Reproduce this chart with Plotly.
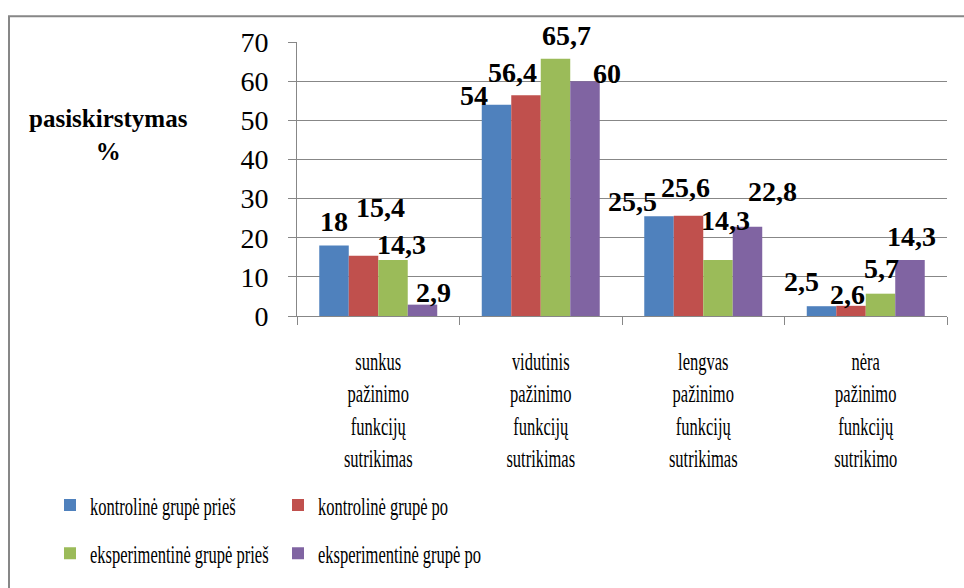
import json
import plotly.graph_objects as go

categories = [
    "sunkus<br>pažinimo<br>funkcijų<br>sutrikimas",
    "vidutinis<br>pažinimo<br>funkcijų<br>sutrikimas",
    "lengvas<br>pažinimo<br>funkcijų<br>sutrikimas",
    "nėra<br>pažinimo<br>funkcijų<br>sutrikimo",
]
series_names = [
    "kontrolinė grupė prieš",
    "kontrolinė grupė po",
    "eksperimentinė grupė prieš",
    "eksperimentinė grupė po",
]
kontroline_pries = [18, 54, 25.5, 2.5]
kontroline_po = [15.4, 56.4, 25.6, 2.6]
eksperimentine_pries = [14.3, 65.7, 14.3, 5.7]
eksperimentine_po = [2.9, 60, 22.8, 14.3]
y_ticks = [0, 10, 20, 30, 40, 50, 60, 70]

series_values = [kontroline_pries, kontroline_po, eksperimentine_pries, eksperimentine_po]
colors = ["#4F81BD", "#C0504D", "#9BBB59", "#8064A2"]
legends = ["legend", "legend", "legend2", "legend2"]

# label placement style (pixel nudges relative to default "above bar" spot)
label_dx = [[0, -23, -27, -20], [17, -14, -3.5, -4], [9, 11.5, 8, 1], [11.5, 22.5, 25, 2]]
label_dy = [[24, 9, 15, 25], [48, 23, 28, 11], [16, 23, 40, 25], [12, 8, 35, 24]]

W, H = 964, 588
ML, MR, MT, MB = 297, 17, 42, 268
plot_w = W - ML - MR
plot_h = H - MT - MB
bargap = 0.274
cat_px = plot_w / len(categories)
bar_px = cat_px * (1 - bargap) / len(series_values)

SERIF = "Liberation Serif"
GRAY = "#878787"
NARROW = 0.66  # horizontal squeeze of the narrow category / legend text

fig = go.Figure()
for name, vals, col, lg in zip(series_names, series_values, colors, legends):
    fig.add_trace(go.Bar(
        name=name, x=categories, y=vals, marker=dict(color=col, line=dict(width=0)),
        legend=lg,
    ))

def fmt(v):
    return f"{v:g}".replace(".", ",")

annotations = []
for si, vals in enumerate(series_values):
    off = (si - (len(series_values) - 1) / 2) * bar_px
    for ci, v in enumerate(vals):
        annotations.append(dict(
            x=categories[ci], y=v, xref="x", yref="y", text=fmt(v), showarrow=False,
            xanchor="center", yanchor="middle",
            xshift=off + label_dx[si][ci], yshift=label_dy[si][ci],
            font=dict(family=SERIF, size=28, color="black", weight="bold"),
        ))

annotations.append(dict(
    xref="paper", yref="paper", x=(108 - ML) / plot_w, y=(plot_h - (136 - MT)) / plot_h,
    text="pasiskirstymas<br>%", showarrow=False, xanchor="center", yanchor="middle",
    font=dict(family=SERIF, size=25, color="black", weight="bold"), align="center",
))

leg_common = dict(
    orientation="h", xanchor="left", yanchor="middle", entrywidth=183, entrywidthmode="pixels",
    itemwidth=30, font=dict(family=SERIF, size=25, color="black"),
    bgcolor="rgba(0,0,0,0)", traceorder="normal",
)

fig.update_layout(
    width=W, height=H,
    margin=dict(l=ML, r=MR, t=MT, b=MB),
    paper_bgcolor="white", plot_bgcolor="white",
    barmode="group", bargap=bargap, bargroupgap=0,
    font=dict(family=SERIF, color="black"),
    annotations=annotations,
    showlegend=True,
    legend=dict(x=(50 - ML) / plot_w, y=-(512 - MT - plot_h) / plot_h, **leg_common),
    legend2=dict(x=(50 - ML) / plot_w, y=-(561 - MT - plot_h) / plot_h, **leg_common),
    shapes=[dict(
        type="rect", xref="paper", yref="paper",
        x0=(9 - ML) / plot_w, x1=(975 - ML) / plot_w,
        y0=(plot_h - (16 - MT)) / plot_h, y1=(plot_h - (600 - MT)) / plot_h,
        line=dict(color=GRAY, width=2), fillcolor="rgba(0,0,0,0)", layer="below",
    )],
)

fig.update_yaxes(
    range=[0, 70], tickvals=y_ticks, ticktext=[str(t) for t in y_ticks],
    showgrid=True, gridcolor=GRAY, gridwidth=1,
    showline=True, linecolor=GRAY, linewidth=1,
    ticks="outside", ticklen=8, tickcolor=GRAY, tickwidth=1,
    tickfont=dict(family=SERIF, size=28, color="black"),
    ticklabelstandoff=14, zeroline=False, fixedrange=True,
)
fig.update_xaxes(
    showline=True, linecolor=GRAY, linewidth=1,
    ticks="outside", ticklen=8, tickcolor=GRAY, tickwidth=1, tickson="boundaries",
    tickfont=dict(family=SERIF, size=25, color="black"),
    ticklabelstandoff=23, showgrid=False, fixedrange=True,
)

post = """
document.body.style.margin = '0';
var gd = document.getElementById('{plot_id}');
var NAMES = __NAMES__;
var K = __K__;
function squeeze() {
  gd.querySelectorAll('g.xtick text').forEach(function (t) {
    var tr = t.getAttribute('transform') || '';
    if (tr.indexOf('scale(') >= 0) return;
    var x = parseFloat(t.getAttribute('x')) || 0;
    t.setAttribute('transform', tr + ' translate(' + x + ',0) scale(' + K + ',1) translate(' + (-x) + ',0)');
  });
  gd.querySelectorAll('text').forEach(function (t) {
    if (NAMES.indexOf((t.textContent || '').trim()) < 0) return;
    if (t.style.transform) return;
    t.style.transformBox = 'fill-box';
    t.style.transformOrigin = 'left center';
    t.style.transform = 'scaleX(' + K + ')';
  });
}
squeeze();
new MutationObserver(squeeze).observe(gd, {childList: true, subtree: true, characterData: true, attributes: true, attributeFilter: ['transform', 'x']});
if (gd.on) gd.on('plotly_afterplot', squeeze);
setTimeout(squeeze, 0);
setTimeout(squeeze, 50);
setTimeout(squeeze, 300);
""".replace("__NAMES__", json.dumps(series_names, ensure_ascii=False)).replace("__K__", str(NARROW))

fig.write_html("out.html", post_script=post, config={"displayModeBar": False})
